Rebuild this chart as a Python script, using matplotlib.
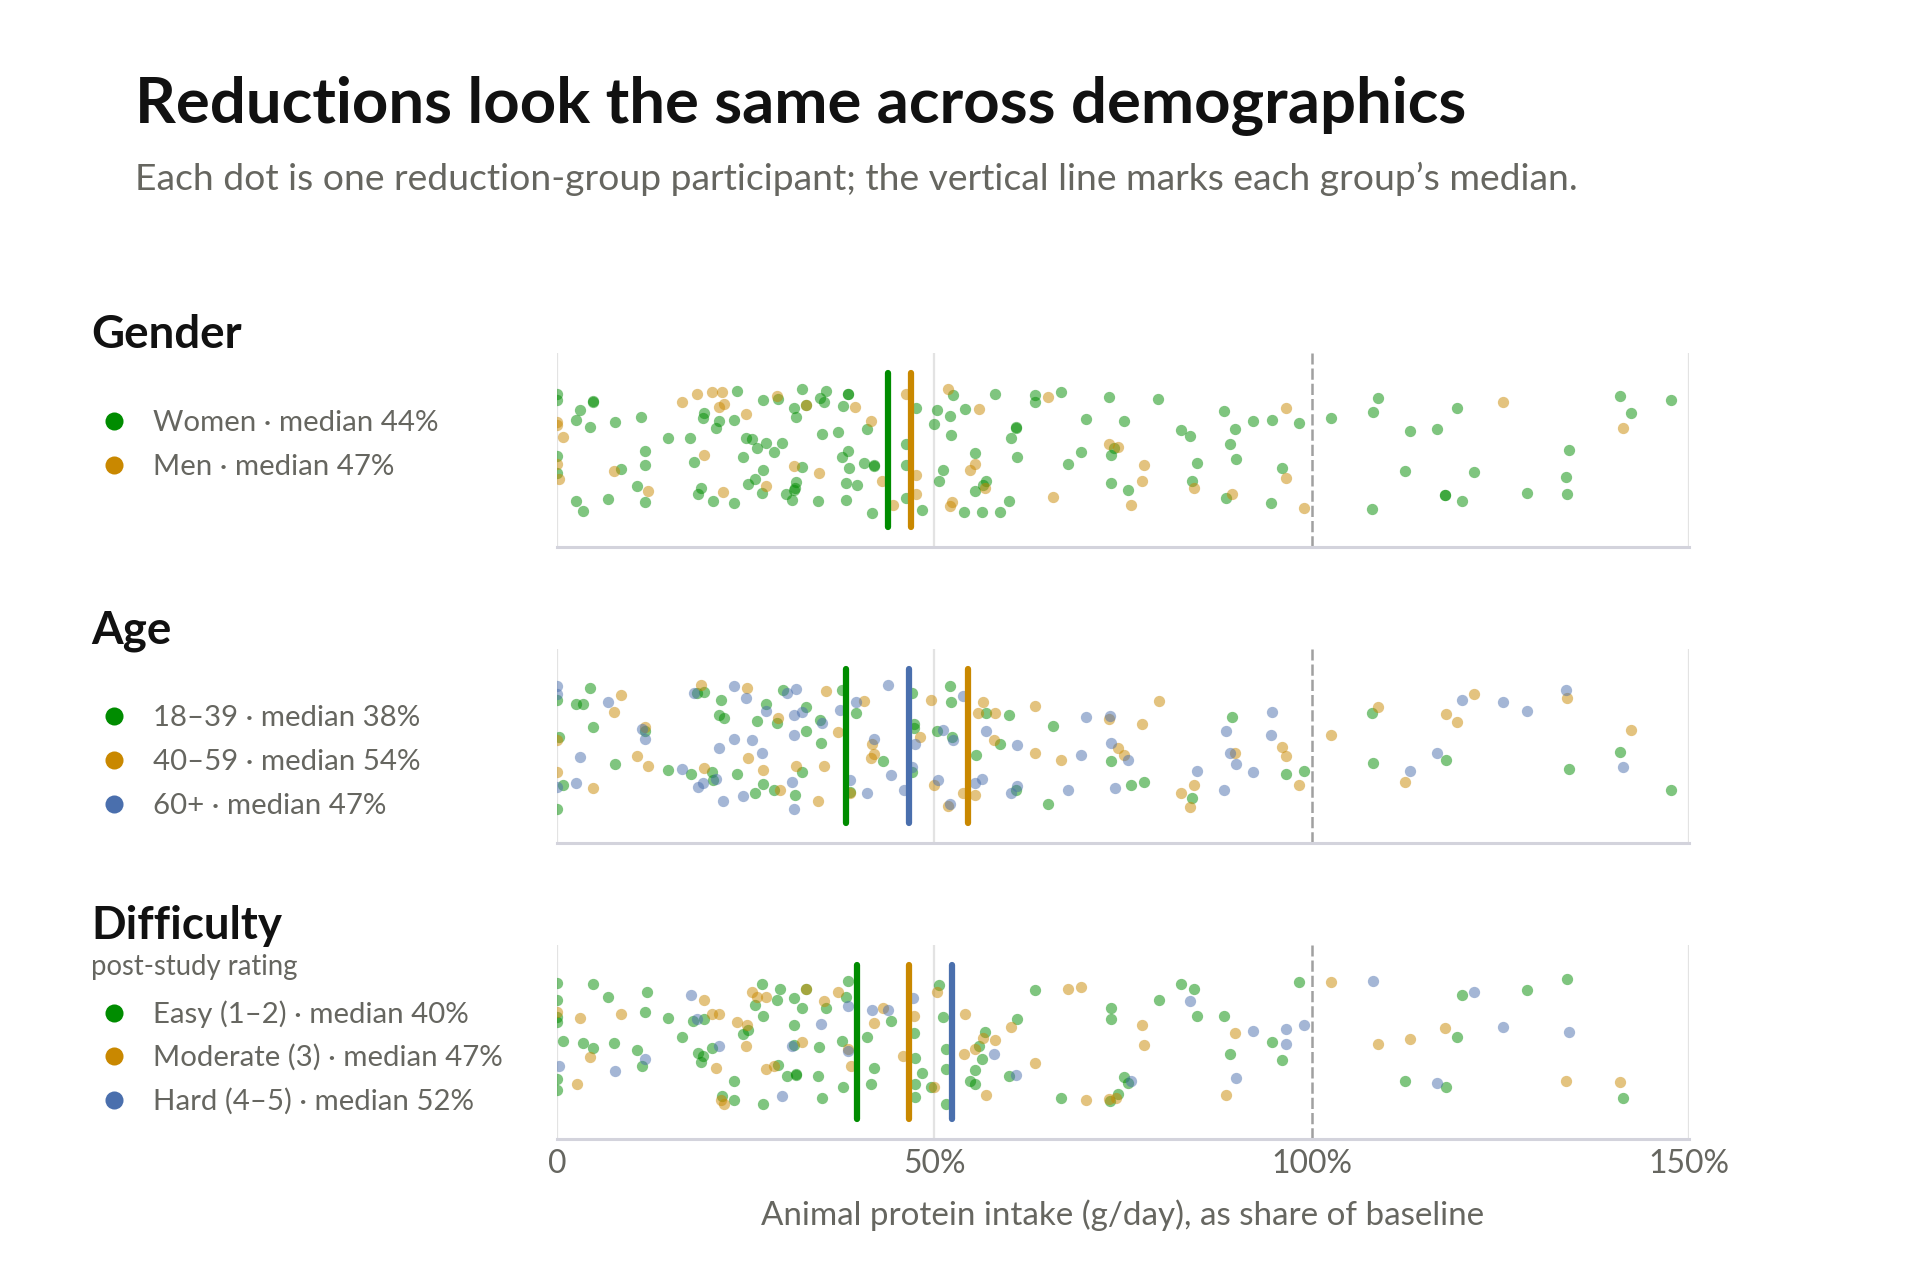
import matplotlib
matplotlib.use("Agg")
import matplotlib.pyplot as plt
from matplotlib.lines import Line2D

plt.rcParams['font.family'] = ['Lato', 'DejaVu Sans']

# ---------------- DATA ----------------
title = "Reductions look the same across demographics"
subtitle = "Each dot is one reduction-group participant; the vertical line marks each group\u2019s median."
xlabel = "Animal protein intake (g/day), as share of baseline"
tick_values = [0, 50, 100, 150]
tick_labels = ["0", "50%", "100%", "150%"]

colors = ["#008c00", "#c98800", "#4a6fad"]

# Gender
women_x = [0, 0, 4.8, 4.8, 3.0, 2.5, 4.4, 7.7, 11.1, 0, 0, 2.5, 3.5, 6.7, 8.5, 11.7, 11.7, 10.6, 11.7, 14.7,
           17.6, 18.1, 19.5, 19.4, 21.5, 21.1, 23.4, 23.9, 19.1, 18.7, 20.7, 23.5, 24.7, 25.1, 25.8, 26.5, 27.7,
           28.7, 29.8, 27.3, 29.3, 27.3, 26.3, 25.3, 27.2, 31.4, 31.7, 32.5, 32.5, 31.7, 31.5, 31.4, 30.4, 31.2,
           34.6, 34.9, 35.6, 35.4, 35.1, 37.3, 37.9, 38.6, 38.6, 38.6, 37.7, 38.7, 38.3, 39.7, 38.3, 41.1, 40.7,
           42.0, 42.0, 41.8, 33.0, 47.6, 46.2, 48.3, 46.3, 46.3,
           50.4, 50.0, 51.2, 50.6, 52.5, 52.1, 52.2, 54.0, 58.1, 55.4, 55.4, 56.5, 56.9, 53.9, 56.3, 58.7, 59.9,
           60.1, 60.8, 60.8, 61.0, 63.4, 63.3, 66.8, 67.7, 69.4, 70.1, 73.2, 73.4, 73.8, 73.4, 75.1, 75.7, 79.7,
           82.7, 83.9, 84.8, 84.1, 88.4, 89.8, 89.2, 90.0, 88.7, 92.2, 94.7, 98.3, 96.1, 94.6,
           102.5, 108.1, 108.8, 113.0, 116.6, 119.2, 112.4, 117.7, 117.7, 119.9, 121.5, 108.0, 128.5, 134.1,
           133.7, 133.8, 140.8, 142.3, 147.6]
women_j = [0.92, 0.82, 0.80, 0.79, 0.65, 0.49, 0.37, 0.45, 0.54, -0.10, -0.37, -0.83, -0.99, -0.79, -0.31, -0.02,
           -0.24, -0.59, -0.84, 0.19, 0.19, -0.19, 0.60, 0.52, 0.48, 0.36, 0.49, 0.96, -0.62, -0.72, -0.83, -0.87,
           -0.11, 0.19, 0.18, 0.03, 0.11, -0.03, 0.11, 0.81, 0.83, -0.32, -0.47, -0.56, -0.70, 0.68, 0.54, 0.99,
           -0.28, -0.52, -0.62, -0.65, -0.71, -0.82, -0.83, 0.84, 0.96, 0.78, 0.26, 0.29, 0.72, 0.92, 0.91, -0.02,
           -0.11, -0.30, -0.54, -0.57, -0.81, 0.35, -0.21, -0.26, -0.25, -1.02, 0.73, 0.68, 0.10, -0.97, -0.78, -0.24,
           0.65, 0.43, -0.32, -0.50, 0.90, 0.56, 0.24, 0.66, 0.92, -0.05, -0.66, -0.57, -0.51, -1.01, -1.01, -1.01,
           -0.83, 0.19, 0.37, 0.36, -0.11, 0.90, 0.79, 0.94, -0.23, -0.03, 0.50, 0.86, -0.08, 0.04, -0.54, 0.47,
           -0.65, 0.83, 0.33, 0.23, -0.21, -0.51, 0.64, 0.34, 0.10, -0.15, -0.78, 0.47, 0.49, 0.44, -0.30, -0.86,
           0.52, 0.62, 0.84, 0.31, 0.34, 0.68, -0.34, -0.74, -0.73, -0.83, -0.36, -0.96, -0.70, 0.00, -0.44, -0.71,
           0.88, 0.60, 0.81]
men_x = [0, 0, 0.8, 0, 0.3, 7.6, 12.0, 16.6, 18.6, 20.5, 21.8, 22.1, 21.5, 25.1, 19.5, 22.0, 29.2, 33.0, 27.7,
         31.4, 34.7, 39.5, 41.6, 43.0, 44.5, 46.3, 47.6, 47.6,
         51.8, 55.9, 65.1, 55.4, 54.7, 56.7, 52.4, 52.1, 65.7, 73.2, 74.4, 77.8, 77.5, 76.0, 84.4, 89.5, 96.6,
         96.6, 99.0, 125.3, 141.2]
men_j = [0.46, 0.41, 0.21, -0.22, -0.47, -0.34, -0.66, 0.78, 0.92, 0.95, 0.95, 0.75, 0.70, 0.59, -0.08, -0.68,
         0.88, 0.73, -0.59, -0.26, -0.38, 0.70, 0.48, -0.51, -0.89, 0.92, -0.40, -0.72,
         0.99, 0.66, 0.86, -0.23, -0.32, -0.62, -0.84, -0.92, -0.76, 0.09, 0.05, -0.25, -0.50, -0.90, -0.62,
         -0.71, 0.69, -0.45, -0.95, 0.78, 0.36]

# Age
age1_x = [0, 0.3, 0.8, 0, 2.5, 3.5, 4.4, 4.8, 7.7, 11.7, 14.7, 17.7, 18.5, 19.5, 20.5, 20.7, 21.7, 21.5, 22.1,
          23.9, 27.3, 26.3, 28.7, 26.5, 27.7, 29.2, 29.9, 33.0, 33.0, 32.5, 31.5, 35.0, 34.8, 37.8, 38.8, 39.6,
          43.2, 47.1, 47.3, 47.3, 47.1,
          50.4, 52.1, 52.2, 52.4, 56.8, 59.9, 58.7, 55.5, 60.8, 65.7, 65.1, 73.4, 76.1, 77.8, 84.1, 89.4, 96.6,
          98.98, 108.0, 108.1, 117.8, 134.1, 140.8, 147.6]
age1_j = [0.75, 0.15, -0.64, -1.02, 0.69, 0.69, 0.95, 0.31, -0.30, 0.25, -0.39, -0.45, 0.87, 0.88, -0.42, -0.56,
          0.75, 0.51, 0.46, -0.45, -0.62, -0.76, -0.72, 0.40, 0.68, 0.38, 0.91, 0.64, 0.24, -0.42, -0.80, 0.05,
          0.43, 0.91, -0.75, 0.54, -0.25, 0.86, 0.36, 0.29, -0.42,
          0.25, 0.98, 0.72, 0.14, 0.54, 0.51, 0.04, -0.14, -0.72, 0.33, -0.95, -0.25, -0.63, -0.58, -0.85, 0.48,
          -0.45, -0.40, 0.54, -0.27, -0.22, -0.37, -0.09, -0.72]
age2_x = [0, 0, 8.5, 7.6, 4.8, 11.7, 10.6, 12.0, 19.1, 19.5, 25.2, 25.3, 27.3, 29.6, 29.3, 31.7, 34.6, 35.4, 35.7,
          37.2, 38.8, 40.7, 41.8, 42.0, 41.6, 49.6, 48.1, 49.96,
          51.8, 56.5, 55.85, 58.06, 57.9, 55.4, 53.8, 63.4, 63.3, 66.8, 73.2, 74.4, 75.1, 77.5, 79.8, 82.7, 84.4,
          83.9, 89.8, 96.1, 96.6, 98.3, 102.5, 108.8, 112.4, 117.8, 119.2, 121.5, 133.8, 142.3]
age2_j = [0.09, -0.43, 0.83, 0.55, -0.69, 0.31, -0.16, -0.33, 0.99, -0.36, 0.95, -0.20, -0.39, -0.72, 0.46, -0.33,
          -0.90, -0.32, 0.90, 0.22, -0.77, 0.74, 0.03, -0.13, -0.19, 0.75, 0.14, -0.64,
          -0.97, 0.72, 0.54, 0.54, 0.10, -0.79, -0.76, 0.65, -0.12, -0.22, 0.44, -0.03, -0.15, 0.36, 0.74, -0.77,
          -0.63, -1.0, -0.11, -0.01, -0.17, -0.63, 0.18, 0.64, -0.58, 0.52, 0.39, 0.85, 0.78, 0.26]
age3_x = [0, 0, 0, 6.7, 3.0, 2.5, 11.2, 11.7, 16.6, 18.1, 21.1, 18.7, 19.4, 21.5, 23.4, 23.5, 25.1, 22.0, 24.6,
          25.9, 27.2, 27.7, 30.5, 31.7, 31.4, 32.5, 31.4, 31.2, 31.4, 35.1, 37.5, 38.8, 39.6, 42.0, 44.3, 41.1,
          43.9, 46.0, 47.4, 47.0,
          51.2, 53.8, 52.5, 52.05, 50.5, 56.9, 55.4, 56.3, 61.0, 61.0, 60.1, 69.4, 67.7, 70.1, 73.3, 73.4, 75.7,
          73.95, 84.8, 88.4, 88.7, 89.2, 90.0, 92.2, 94.7, 94.6, 113.0, 116.6, 119.9, 125.3, 128.5, 133.7, 141.2]
age3_j = [0.97, 0.85, -0.66, 0.71, -0.18, -0.61, 0.28, 0.12, -0.38, 0.87, -0.53, -0.66, -0.61, -0.04, 0.12, 0.98,
          0.78, -0.90, -0.82, 0.10, -0.11, 0.57, 0.87, 0.93, 0.51, 0.55, 0.18, -0.59, -1.02, 0.38, 0.59, -0.56,
          0.72, 0.11, -0.48, -0.76, 0.99, -0.72, 0.03, -0.34,
          0.26, 0.81, 0.10, -0.94, -0.56, 0.25, -0.61, -0.53, 0.02, -0.65, -0.77, -0.14, -0.72, 0.48, 0.49, 0.05,
          -0.22, -0.69, -0.40, -0.72, 0.25, -0.12, -0.29, -0.43, 0.56, 0.18, -0.40, -0.11, 0.75, 0.72, 0.57, 0.91,
          -0.35]

# Difficulty
easy_x = [0, 0, 0, 0, 0, 0, 0.8, 4.8, 6.7, 3.5, 4.8, 7.6, 11.9, 11.7, 10.6, 11.2, 14.7, 16.6, 18.0, 19.5, 18.7,
          19.4, 19.1, 20.6, 23.5, 21.9, 23.4, 24.7, 25.3, 27.2, 26.3, 27.3, 29.6, 29.2, 31.4, 32.5, 33.0, 31.4,
          31.4, 29.3, 30.5, 31.7, 31.7, 27.3, 34.6, 35.1, 34.7, 35.6, 38.5, 38.3, 37.7, 37.9, 44.2, 41.1, 42.0,
          41.6, 47.3, 47.5, 48.3, 47.4, 47.4, 49.6,
          50.6, 51.1, 51.6, 51.6, 51.6, 55.9, 56.7, 56.3, 55.4, 54.7, 55.4, 61.0, 59.9, 63.4, 66.8, 73.3, 74.4,
          75.1, 75.7, 73.4, 73.4, 79.8, 82.7, 84.4, 84.8, 88.4, 89.2, 94.7, 96.1, 98.3,
          119.2, 119.9, 128.5, 133.8, 112.4, 117.8, 141.2]
easy_j = [0.96, 0.69, 0.41, 0.33, -0.61, -0.78, 0.02, 0.95, 0.73, -0.02, -0.10, -0.02, 0.82, 0.49, -0.13, -0.39,
          0.39, 0.08, 0.34, 0.37, -0.18, -0.23, -0.32, -0.09, -0.64, -0.88, -0.94, 0.13, 0.19, 0.94, 0.60, 0.43,
          0.87, 0.68, 0.72, 0.56, 0.87, 0.27, -0.05, -0.38, -0.56, -0.52, -0.53, -1.01, -0.56, -0.91, -0.08, 0.55,
          0.99, 0.73, 0.02, -0.74, 0.34, 0.08, -0.42, -0.68, 0.14, -0.26, -0.51, -0.69, -0.90, -0.74,
          0.93, 0.41, -0.12, -0.44, -1.01, -0.07, 0.16, -0.28, -0.45, -0.63, -0.68, 0.37, -0.55, 0.84, -0.91,
          -0.96, -0.85, -0.57, -0.67, 0.55, 0.37, 0.68, 0.95, 0.86, 0.42, 0.42, -0.20, 0.00, -0.29, 0.97,
          0.08, 0.76, 0.84, 1.02, -0.64, -0.73, -0.91]
moderate_x = [0, 3.0, 4.4, 2.6, 8.5, 19.5, 20.5, 21.5, 21.1, 21.7, 22.1, 23.9, 25.2, 25.1, 25.9, 26.5, 27.7, 33.0,
              32.5, 27.7, 28.7, 35.4, 37.3, 38.6, 43.2, 42.0, 39.0, 47.3, 45.9, 49.9,
              50.4, 54.0, 53.9, 55.4, 56.5, 58.1, 56.9, 60.1, 63.4, 67.7, 69.4, 70.1, 73.2, 74.1, 77.5, 77.8,
              89.8, 88.7, 102.5, 108.8, 113.0, 117.7, 133.7, 140.8]
moderate_j = [0.49, 0.39, -0.25, -0.68, 0.45, 0.69, 0.45, 0.45, -0.42, -0.94, -1.01, 0.33, 0.28, -0.07, 0.81,
              0.73, 0.73, 0.87, 0.00, -0.44, -0.39, 0.66, 0.81, -0.12, 0.55, 0.31, -0.39, 0.42, -0.22, -0.74,
              0.82, 0.45, -0.20, -0.12, 0.06, 0.04, -0.87, 0.24, -0.34, 0.87, 0.90, -0.94, -0.93, -0.91, 0.27,
              -0.05, 0.14, -0.86, 0.98, -0.04, 0.05, 0.22, -0.64, -0.65]
hard_x = [0.3, 7.7, 11.7, 17.7, 18.6, 21.5, 31.2, 29.8, 35.0, 38.6, 38.6, 41.8, 43.9, 47.2,
          57.9, 60.8, 76.1, 83.9, 90.0, 92.2, 96.6, 96.6, 98.98, 108.1, 121.5, 125.3, 134.1, 116.6]
hard_j = [-0.39, -0.47, -0.27, 0.76, 0.37, -0.06, -0.06, -0.88, 0.29, 0.59, -0.14, 0.52, 0.52, 0.72,
          -0.20, -0.54, -0.64, 0.66, -0.58, 0.18, 0.21, -0.03, 0.28, 1.0, 0.81, 0.24, 0.16, -0.67]

section_titles = ["Gender", "Age", "Difficulty"]
section_notes = [None, None, "post-study rating"]
group_names = [["Women", "Men"],
               ["18\u201339", "40\u201359", "60+"],
               ["Easy (1\u20132)", "Moderate (3)", "Hard (4\u20135)"]]
medians = [[43.9, 46.9], [38.3, 54.5, 46.6], [39.8, 46.6, 52.4]]
xs = [[women_x, men_x], [age1_x, age2_x, age3_x], [easy_x, moderate_x, hard_x]]
js = [[women_j, men_j], [age1_j, age2_j, age3_j], [easy_j, moderate_j, hard_j]]

# ---------------- LAYOUT ----------------
W, H = 1920, 1284
fig = plt.figure(figsize=(W / 100, H / 100), dpi=100)
fig.patch.set_facecolor("white")

def fx(px):
    return px / W

def fy(py):
    return 1 - py / H

renderer = fig.canvas.get_renderer()

def fit(t, target_px):
    bb = t.get_window_extent(renderer=renderer)
    t.set_fontsize(t.get_fontsize() * target_px / bb.width)
    return t.get_fontsize()

TXT = "#666660"

t = fig.text(fx(135), fy(122), title, fontsize=44, fontweight="bold", color="#111111", va="baseline")
fit(t, 1331)
t = fig.text(fx(135), fy(190), subtitle, fontsize=26, color=TXT, va="baseline")
fit(t, 1441)

panel_tops = [353, 649, 945]
panel_h = 194
head_base = [348, 643, 939]
item_y = [[421, 465], [716, 760, 804], [1013, 1056, 1100]]

# scale font sizes from reference text widths
probe = fig.text(0, 0, "Gender", fontsize=30, fontweight="bold")
head_size = fit(probe, 150)
probe.remove()
probe = fig.text(0, 0, "Women \u00b7 median 44%", fontsize=20)
item_size = fit(probe, 285)
probe.remove()
probe = fig.text(0, 0, "post-study rating", fontsize=16)
note_size = fit(probe, 208)
probe.remove()
probe = fig.text(0, 0, xlabel, fontsize=20)
xlabel_size = fit(probe, 725)
probe.remove()
probe = fig.text(0, 0, "150%", fontsize=20)
tick_size = fit(probe, 81)
probe.remove()

for k in range(3):
    top = panel_tops[k]
    ax = fig.add_axes([fx(557), fy(top + panel_h), fx(1689) - fx(557), panel_h / H])
    ax.set_xlim(0, 150)
    ax.set_ylim(-1.58, 1.58)
    ax.set_facecolor("none")
    for s in ["top", "right", "left"]:
        ax.spines[s].set_visible(False)
    ax.spines["bottom"].set_color("#d3d3dc")
    ax.spines["bottom"].set_linewidth(2.2)
    ax.set_yticks([])
    for v in tick_values:
        if v == 100:
            ax.axvline(v, color="#a0a0a0", lw=1.8, ls=(0, (4.5, 1.6)), zorder=1)
        else:
            ax.axvline(v, color="#e3e3e3", lw=1.6, zorder=1)
    ngroups = len(xs[k])
    for g in range(ngroups):
        ax.scatter(xs[k][g], js[k][g], s=66, color=colors[g], alpha=0.5, linewidths=0, zorder=2)
    for g in range(ngroups):
        ax.plot([medians[k][g], medians[k][g]], [-1.25, 1.25], color=colors[g], lw=4.5,
                solid_capstyle="round", zorder=4)
    ax.set_xticks(tick_values)
    ax.tick_params(axis="x", length=0, pad=7, labelsize=tick_size, labelcolor=TXT)
    if k < 2:
        ax.set_xticklabels([])
    else:
        ax.set_xticklabels(tick_labels)
        ax.set_xlabel(xlabel, fontsize=xlabel_size, color=TXT, labelpad=15)

    # section heading & legend
    fig.text(fx(91), fy(head_base[k]), section_titles[k], fontsize=head_size, fontweight="bold",
             color="#111111", va="baseline")
    if section_notes[k]:
        fig.text(fx(91), fy(975), section_notes[k], fontsize=note_size, color=TXT, va="baseline")
    for g in range(ngroups):
        yy = item_y[k][g]
        fig.add_artist(Line2D([fx(114)], [fy(yy)], marker="o", markersize=13, color=colors[g],
                              markeredgewidth=0, transform=fig.transFigure))
        fig.text(fx(153), fy(yy + 10), f"{group_names[k][g]} \u00b7 median {round(medians[k][g])}%",
                 fontsize=item_size, color=TXT, va="baseline")

fig.savefig("out.png", dpi=100, facecolor="white")
